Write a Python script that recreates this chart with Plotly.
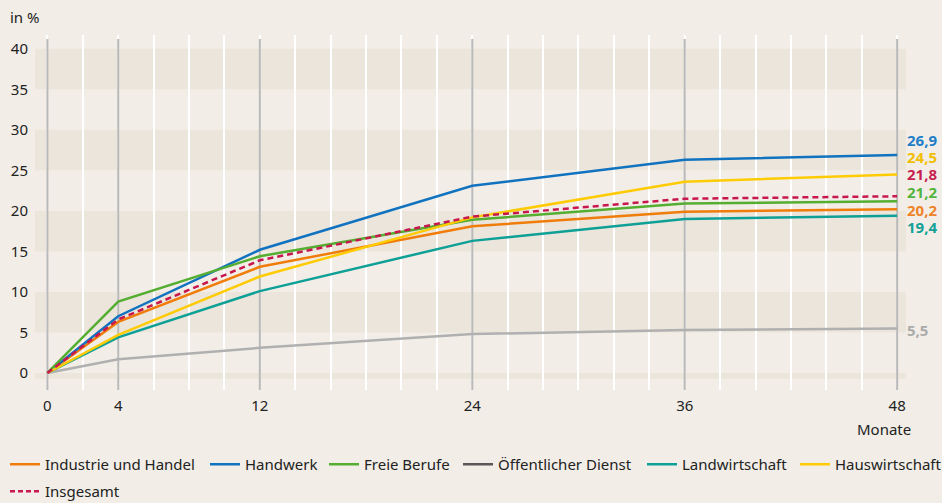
import plotly.graph_objects as go

# months since start of training contract
months = [0, 4, 12, 24, 36, 48]

# share of dissolved contracts in % per sector
industrie_handel = [0, 6.3, 13.1, 18.1, 19.9, 20.2]
handwerk = [0, 7.0, 15.2, 23.1, 26.3, 26.9]
freie_berufe = [0, 8.8, 14.4, 18.9, 20.9, 21.2]
oeffentlicher_dienst = [0, 1.7, 3.1, 4.8, 5.3, 5.5]
landwirtschaft = [0, 4.4, 10.1, 16.3, 19.0, 19.4]
hauswirtschaft = [0, 4.7, 11.9, 19.2, 23.6, 24.5]
insgesamt = [0, 6.6, 13.9, 19.3, 21.5, 21.8]

end_labels = ["26,9", "24,5", "21,8", "21,2", "20,2", "19,4", "5,5"]
y_ticks = [0, 5, 10, 15, 20, 25, 30, 35, 40]
x_ticks = [0, 4, 12, 24, 36, 48]

BG = "#F2EEE7"
BAND = "#EBE5DB"
FONT = "Noto Sans"
W, H = 942, 503

series = [
    # name, values, line colour, legend colour, dash, label colour
    ("Industrie und Handel", industrie_handel, "#F07D0A", "#F07D0A", "solid", "#F08228"),
    ("Handwerk", handwerk, "#1173C0", "#1173C0", "solid", "#1E7EC8"),
    ("Freie Berufe", freie_berufe, "#55AE32", "#55AE32", "solid", "#52B43C"),
    ("Öffentlicher Dienst", oeffentlicher_dienst, "#B0B0B0", "#5A5756", "solid", "#ABABAB"),
    ("Landwirtschaft", landwirtschaft, "#0EA096", "#0EA096", "solid", "#14A096"),
    ("Hauswirtschaft", hauswirtschaft, "#FFCB05", "#FFCB05", "solid", "#F0BE00"),
    ("Insgesamt", insgesamt, "#C8174D", "#C8174D", "dash", "#C81E50"),
]

# legend placement: (left px of box, top px of box) for each entry
legend_pos = [(5, 448), (205, 448), (324, 448), (458, 448), (642, 448), (795, 448), (5, 475)]

fig = go.Figure()

# plotted lines (no legend); Insgesamt drawn last, on top
for name, vals, col, _, dash, _ in series:
    fig.add_trace(go.Scatter(
        x=months, y=vals, mode="lines", showlegend=False,
        line=dict(color=col, width=2.5, dash="6px,4px" if dash == "dash" else "solid"),
        name=name,
    ))

# legend entries, one small legend each so spacing follows the original
legends = {}
for i, (name, _, _, lcol, dash, _) in enumerate(series):
    key = "legend" if i == 0 else f"legend{i + 1}"
    fig.add_trace(go.Scatter(
        x=[None], y=[None], mode="lines", name=name, legend=key,
        line=dict(color=lcol, width=2.5, dash="5px,3px" if dash == "dash" else "solid"),
    ))
    px, py = legend_pos[i]
    legends[key] = dict(orientation="h", xref="container", yref="container",
                        x=px / W, y=1 - py / H, xanchor="left", yanchor="top",
                        font=dict(family=FONT, size=15, color="#222222"),
                        bgcolor="rgba(0,0,0,0)", itemwidth=30)

# shaded horizontal bands
shapes = []
for lo in [35, 25, 15, 5]:
    shapes.append(dict(type="rect", xref="paper", yref="y", x0=0, x1=1, y0=lo, y1=lo + 5,
                       fillcolor=BAND, line_width=0, layer="below"))
shapes.append(dict(type="rect", xref="paper", yref="y", x0=0, x1=1, y0=-0.7, y1=0,
                   fillcolor=BAND, line_width=0, layer="below"))
# grey verticals at labelled months
for m in x_ticks:
    shapes.append(dict(type="line", xref="x", yref="y", x0=m, x1=m, y0=-2.1, y1=41.2,
                       line=dict(color="#B9B9B9", width=2), layer="between"))

# end-value labels, spread vertically to avoid overlaps
label_y = [28.8, 26.7, 24.5, 22.3, 20.1, 18.0, 5.3]
label_order = [1, 5, 6, 2, 0, 4, 3]
annotations = []
for txt, ly, idx in zip(end_labels, label_y, label_order):
    annotations.append(dict(
        x=months[-1], y=ly, xref="x", yref="y", text=f"<b>{txt}</b>", showarrow=False,
        xanchor="left", xshift=8, font=dict(family=FONT, size=15, color=series[idx][5]),
    ))
annotations.append(dict(x=-0.031, y=1.05, xref="paper", yref="paper", text="in %",
                        showarrow=False, xanchor="left", yanchor="middle",
                        font=dict(family=FONT, size=15, color="#222222")))
annotations.append(dict(x=months[-1], y=-0.11, xref="x", yref="paper", text="Monate",
                        showarrow=False, xanchor="right", yanchor="middle", xshift=16,
                        font=dict(family=FONT, size=15, color="#222222")))

fig.update_layout(
    width=W, height=H,
    margin=dict(l=35, r=36, t=35, b=113, autoexpand=False),
    paper_bgcolor=BG, plot_bgcolor=BG,
    font=dict(family=FONT, size=15, color="#222222"),
    shapes=shapes, annotations=annotations,
    showlegend=True,
    xaxis=dict(range=[-0.7, 48.5], tickvals=x_ticks, showgrid=False, zeroline=False,
               showline=False, ticks="", ticklabelstandoff=5, automargin=False,
               minor=dict(dtick=2, tick0=0, showgrid=True, gridcolor="#FFFFFF", gridwidth=2)),
    yaxis=dict(range=[-2.1, 41.7], tickvals=y_ticks, showgrid=False, zeroline=False,
               showline=False, ticks="", ticklabelstandoff=6, automargin=False),
    **legends,
)

fig.write_html("out.html", config={"displayModeBar": False},
               post_script="document.body.style.margin='0';")
